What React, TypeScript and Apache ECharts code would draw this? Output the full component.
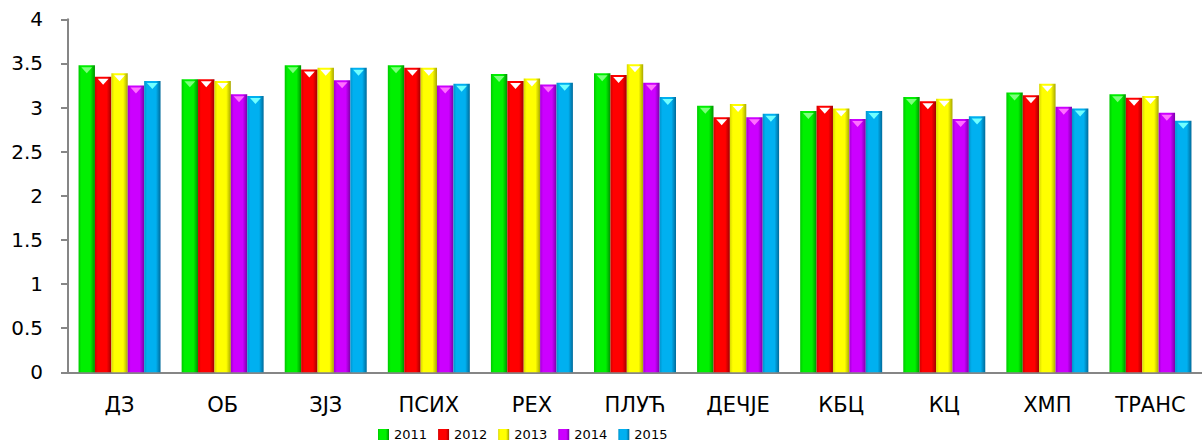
import React, { useEffect, useRef } from "react";
import * as echarts from "echarts";

const categories = ["ДЗ", "ОБ", "ЗЈЗ", "ПСИХ", "РЕХ", "ПЛУЋ", "ДЕЧЈЕ", "КБЦ", "КЦ", "ХМП", "ТРАНС"];
const years = ["2011", "2012", "2013", "2014", "2015"];
const values2011 = [3.48, 3.32, 3.48, 3.48, 3.38, 3.39, 3.02, 2.96, 3.12, 3.17, 3.15];
const values2012 = [3.35, 3.32, 3.43, 3.45, 3.30, 3.37, 2.89, 3.02, 3.07, 3.14, 3.11];
const values2013 = [3.39, 3.30, 3.45, 3.45, 3.33, 3.49, 3.04, 2.99, 3.10, 3.27, 3.13];
const values2014 = [3.25, 3.15, 3.31, 3.25, 3.26, 3.28, 2.89, 2.87, 2.87, 3.01, 2.94];
const values2015 = [3.30, 3.13, 3.45, 3.27, 3.28, 3.12, 2.93, 2.96, 2.90, 2.99, 2.85];
const seriesValues = [values2011, values2012, values2013, values2014, values2015];

const baseColors = ["#00f000", "#ff0000", "#ffff00", "#cc00ff", "#00b0f0"];
const edgeLeft = ["#00c800", "#d00000", "#d8d800", "#a000d0", "#0094cc"];
const edgeRight = ["#009000", "#a00000", "#a8a800", "#7a00a8", "#006a9a"];
const highlightColors = ["#7dff7d", "#ffffff", "#ffffff", "#ff70ff", "#70ffff"];

const BAR_W = 16.4;

export default function App() {
  const ref = useRef<HTMLDivElement>(null);
  useEffect(() => {
    if (!ref.current) return;
    const chart = echarts.init(ref.current, null, { renderer: "svg" });
    const font = "DejaVu Sans";
    const barSeries = years.map((y, i) => ({
      name: y,
      type: "bar",
      data: seriesValues[i],
      barWidth: BAR_W,
      barGap: "0%",
      z: 2,
      itemStyle: {
        color: new echarts.graphic.LinearGradient(0, 0, 1, 0, [
          { offset: 0, color: edgeLeft[i] },
          { offset: 0.18, color: baseColors[i] },
          { offset: 0.72, color: baseColors[i] },
          { offset: 1, color: edgeRight[i] },
        ]),
      },
    }));
    const hlSeries = years.map((y, i) => ({
      name: "h" + y,
      type: "pictorialBar",
      data: seriesValues[i],
      barWidth: BAR_W,
      barGap: "0%",
      symbol: "triangle",
      symbolRotate: 180,
      symbolSize: [11, 6],
      symbolPosition: "end",
      symbolOffset: [0, 2],
      z: 3,
      silent: true,
      itemStyle: { color: highlightColors[i] },
    }));
    chart.setOption({
      animation: false,
      textStyle: { fontFamily: font },
      grid: { left: 68, top: 19.3, bottom: 68.7, right: -8.6, containLabel: false },
      legend: {
        data: years,
        left: 378,
        top: 428,
        padding: 0,
        itemWidth: 11,
        itemHeight: 11,
        itemGap: 11,
        icon: "rect",
        textStyle: { fontFamily: font, fontSize: 13, lineHeight: 12, color: "#000" },
      },
      xAxis: {
        type: "category",
        data: categories,
        axisLine: { lineStyle: { color: "#868686", width: 2 } },
        axisTick: { length: 7, lineStyle: { color: "#868686", width: 2 } },
        axisLabel: { fontFamily: font, fontSize: 21, color: "#000", margin: 22 },
      },
      yAxis: {
        type: "value",
        min: 0,
        max: 4,
        interval: 0.5,
        splitLine: { show: false },
        axisLine: { show: true, lineStyle: { color: "#868686", width: 2 } },
        axisTick: { show: true, length: 7, lineStyle: { color: "#868686", width: 2 } },
        axisLabel: { fontFamily: font, fontSize: 20, color: "#000", margin: 25 },
      },
      series: [...barSeries, ...hlSeries],
    });
    return () => chart.dispose();
  }, []);
  return (
    <div style={{ position: "fixed", left: 0, top: 0, width: 1202, height: 441, overflow: "hidden", background: "#fff" }}>
      <div ref={ref} style={{ width: 1202, height: 441 }} />
    </div>
  );
}
